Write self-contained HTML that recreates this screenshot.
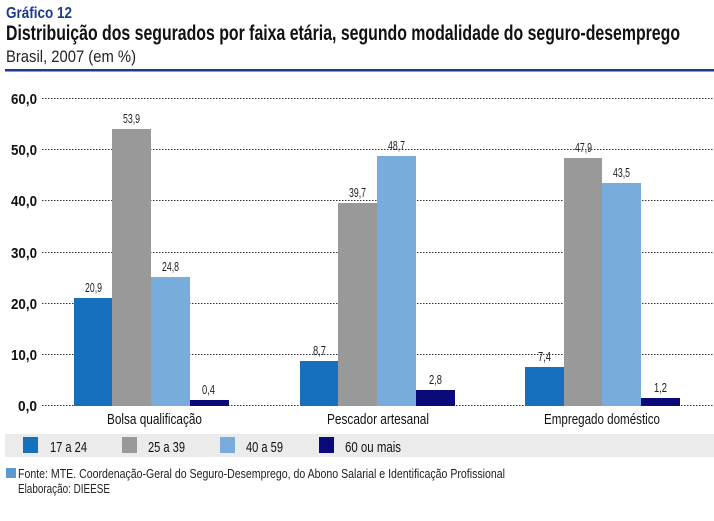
<!DOCTYPE html>
<html><head><meta charset="utf-8"><style>
body{margin:0;width:714px;height:516px;background:#fff;overflow:hidden;font-family:"Liberation Sans",sans-serif;}
</style></head><body>
<svg width="714" height="516" xmlns="http://www.w3.org/2000/svg" font-family="'Liberation Sans',sans-serif">
<text x="6" y="18" font-size="16" font-weight="bold" fill="#1a3a8f" textLength="66" lengthAdjust="spacingAndGlyphs">Gráfico 12</text>
<text x="6" y="40" font-size="21" font-weight="bold" fill="#111" textLength="674" lengthAdjust="spacingAndGlyphs">Distribuição dos segurados por faixa etária, segundo modalidade do seguro-desemprego</text>
<text x="6" y="62" font-size="17" fill="#222" textLength="130" lengthAdjust="spacingAndGlyphs">Brasil, 2007 (em %)</text>
<rect x="5" y="69" width="709" height="2.5" fill="#1a3a8f"/>
<g stroke="#333" stroke-width="1" stroke-dasharray="1.5,1.5">
<line x1="42" x2="714" y1="98.5" y2="98.5"/><line x1="42" x2="714" y1="149.5" y2="149.5"/><line x1="42" x2="714" y1="200.5" y2="200.5"/><line x1="42" x2="714" y1="252.5" y2="252.5"/><line x1="42" x2="714" y1="303.5" y2="303.5"/><line x1="42" x2="714" y1="354.5" y2="354.5"/><line x1="42" x2="714" y1="405.5" y2="405.5"/>
</g>
<g font-size="15" font-weight="bold" fill="#111">
<text x="11" y="104" textLength="26" lengthAdjust="spacingAndGlyphs">60,0</text><text x="11" y="155" textLength="26" lengthAdjust="spacingAndGlyphs">50,0</text><text x="11" y="206" textLength="26" lengthAdjust="spacingAndGlyphs">40,0</text><text x="11" y="258" textLength="26" lengthAdjust="spacingAndGlyphs">30,0</text><text x="11" y="309" textLength="26" lengthAdjust="spacingAndGlyphs">20,0</text><text x="11" y="360" textLength="26" lengthAdjust="spacingAndGlyphs">10,0</text><text x="18" y="411" textLength="19" lengthAdjust="spacingAndGlyphs">0,0</text>
</g>
<g>
<rect x="74" y="298" width="38" height="108" fill="#1670be"/>
<rect x="112" y="129" width="39" height="277" fill="#999"/>
<rect x="151" y="277" width="39" height="129" fill="#78acdb"/>
<rect x="190" y="400" width="39" height="6" fill="#0a0a7a"/>
<rect x="300" y="361" width="38" height="45" fill="#1670be"/>
<rect x="338" y="203" width="39" height="203" fill="#999"/>
<rect x="377" y="156" width="39" height="250" fill="#78acdb"/>
<rect x="416" y="390" width="39" height="16" fill="#0a0a7a"/>
<rect x="525" y="367" width="39" height="39" fill="#1670be"/>
<rect x="564" y="158" width="38" height="248" fill="#999"/>
<rect x="602" y="183" width="39" height="223" fill="#78acdb"/>
<rect x="641" y="398" width="39" height="8" fill="#0a0a7a"/>
</g>
<g font-size="13" fill="#222">
<text x="85" y="292" textLength="17" lengthAdjust="spacingAndGlyphs">20,9</text><text x="123" y="123" textLength="17" lengthAdjust="spacingAndGlyphs">53,9</text><text x="162" y="271" textLength="17" lengthAdjust="spacingAndGlyphs">24,8</text><text x="202" y="394" textLength="13" lengthAdjust="spacingAndGlyphs">0,4</text>
<text x="313" y="355" textLength="13" lengthAdjust="spacingAndGlyphs">8,7</text><text x="349" y="197" textLength="17" lengthAdjust="spacingAndGlyphs">39,7</text><text x="388" y="150" textLength="17" lengthAdjust="spacingAndGlyphs">48,7</text><text x="429" y="384" textLength="13" lengthAdjust="spacingAndGlyphs">2,8</text>
<text x="538" y="361" textLength="13" lengthAdjust="spacingAndGlyphs">7,4</text><text x="575" y="152" textLength="17" lengthAdjust="spacingAndGlyphs">47,9</text><text x="613" y="177" textLength="17" lengthAdjust="spacingAndGlyphs">43,5</text><text x="654" y="392" textLength="13" lengthAdjust="spacingAndGlyphs">1,2</text>
</g>
<g font-size="15" fill="#111">
<text x="107" y="424" textLength="95" lengthAdjust="spacingAndGlyphs">Bolsa qualificação</text><text x="327" y="424" textLength="102" lengthAdjust="spacingAndGlyphs">Pescador artesanal</text><text x="544" y="424" textLength="116" lengthAdjust="spacingAndGlyphs">Empregado doméstico</text>
</g>
<rect x="5" y="434" width="709" height="23" fill="#ebebeb"/>
<rect x="23" y="437" width="15" height="16" fill="#1670be"/>
<rect x="122" y="437" width="15" height="16" fill="#999"/>
<rect x="220" y="437" width="15" height="16" fill="#78acdb"/>
<rect x="319" y="437" width="15" height="16" fill="#0a0a7a"/>
<g font-size="15" fill="#111">
<text x="50" y="452" textLength="37" lengthAdjust="spacingAndGlyphs">17 a 24</text><text x="148" y="452" textLength="37" lengthAdjust="spacingAndGlyphs">25 a 39</text><text x="246" y="452" textLength="37" lengthAdjust="spacingAndGlyphs">40 a 59</text><text x="345" y="452" textLength="56" lengthAdjust="spacingAndGlyphs">60 ou mais</text>
</g>
<rect x="6" y="468" width="10" height="10" fill="#5a9ad0"/>
<g font-size="13" fill="#222">
<text x="18" y="478" textLength="487" lengthAdjust="spacingAndGlyphs">Fonte: MTE. Coordenação-Geral do Seguro-Desemprego, do Abono Salarial e Identificação Profissional</text>
<text x="18" y="493" textLength="92" lengthAdjust="spacingAndGlyphs">Elaboração: DIEESE</text>
</g>
</svg>
</body></html>
